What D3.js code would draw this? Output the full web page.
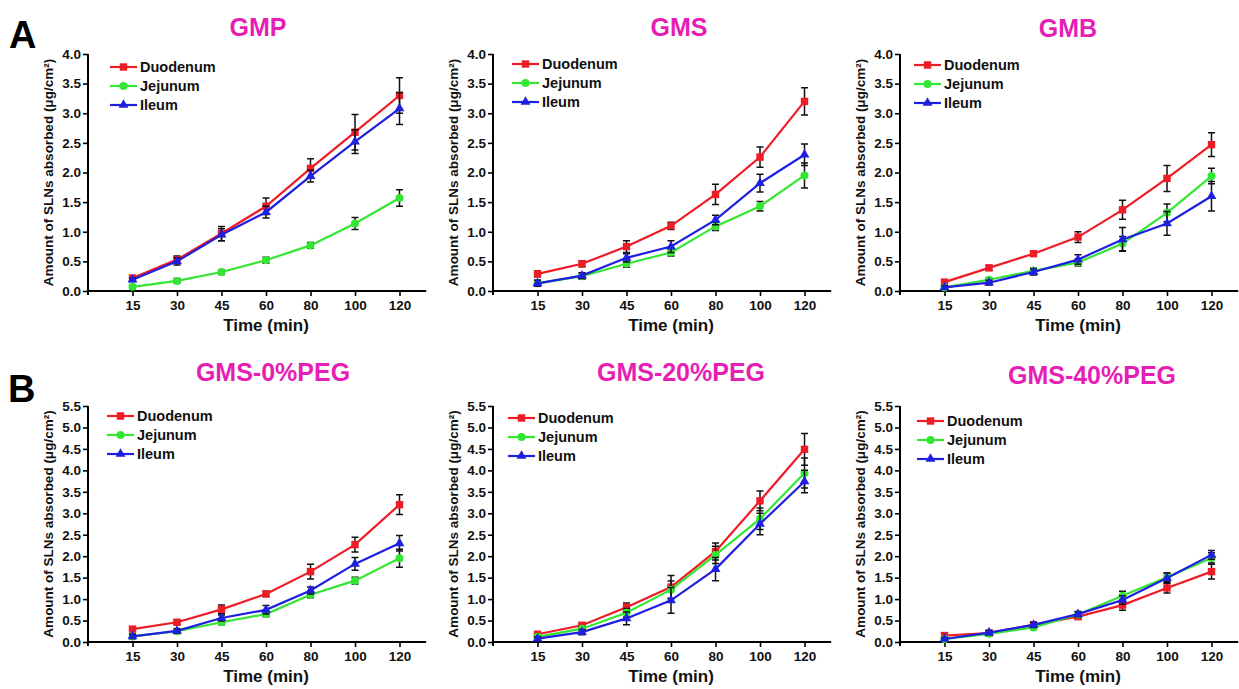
<!DOCTYPE html>
<html>
<head>
<meta charset="utf-8">
<script src="https://cdn.jsdelivr.net/npm/d3@7"></script>
<style>
  body { margin: 0; background: #fff; }
  svg { display: block; font-family: "Liberation Sans", Arial, sans-serif; font-weight: bold; }
</style>
</head>
<body>
<svg id="chart" width="1239" height="689"></svg>
<script>
// time points (categorical x axis)
const times = ['15', '30', '45', '60', '80', '100', '120'];
const seriesNames = ['Duodenum', 'Jejunum', 'Ileum'];
const seriesColors = ['#ee1c24', '#33e633', '#1f1fe0'];

// means per series: [Duodenum, Jejunum, Ileum]
const gmpMean = [
    [0.22, 0.53, 0.97, 1.43, 2.07, 2.68, 3.30],
    [0.07, 0.17, 0.32, 0.52, 0.77, 1.14, 1.57],
    [0.19, 0.50, 0.95, 1.33, 1.94, 2.52, 3.08]
];
const gmpErr = [
    [0.03, 0.06, 0.12, 0.14, 0.16, 0.30, 0.30],
    [0.03, 0.04, 0.04, 0.05, 0.05, 0.10, 0.14],
    [0.03, 0.06, 0.10, 0.10, 0.10, 0.20, 0.27]
];
const gmsMean = [
    [0.29, 0.46, 0.75, 1.10, 1.63, 2.26, 3.20],
    [0.13, 0.25, 0.46, 0.65, 1.09, 1.43, 1.95],
    [0.13, 0.26, 0.56, 0.75, 1.20, 1.82, 2.30]
];
const gmsErr = [
    [0.05, 0.05, 0.10, 0.06, 0.17, 0.17, 0.23],
    [0.05, 0.05, 0.06, 0.06, 0.07, 0.08, 0.21],
    [0.05, 0.05, 0.07, 0.10, 0.08, 0.15, 0.18]
];
const gmbMean = [
    [0.15, 0.39, 0.63, 0.91, 1.37, 1.90, 2.47],
    [0.06, 0.19, 0.34, 0.48, 0.80, 1.32, 1.94],
    [0.06, 0.14, 0.32, 0.53, 0.87, 1.14, 1.60]
];
const gmbErr = [
    [0.03, 0.04, 0.04, 0.09, 0.16, 0.22, 0.20],
    [0.03, 0.03, 0.05, 0.06, 0.12, 0.15, 0.13],
    [0.03, 0.04, 0.05, 0.08, 0.20, 0.20, 0.25]
];
const peg0Mean = [
    [0.30, 0.46, 0.76, 1.12, 1.64, 2.27, 3.20],
    [0.13, 0.25, 0.46, 0.65, 1.10, 1.43, 1.95],
    [0.13, 0.26, 0.56, 0.75, 1.20, 1.82, 2.30]
];
const peg0Err = gmsErr;
const peg20Mean = [
    [0.18, 0.39, 0.81, 1.28, 2.11, 3.29, 4.49],
    [0.12, 0.31, 0.68, 1.22, 2.03, 2.87, 3.94],
    [0.08, 0.23, 0.55, 0.97, 1.70, 2.75, 3.74]
];
const peg20Err = [
    [0.04, 0.05, 0.10, 0.27, 0.20, 0.23, 0.37],
    [0.04, 0.05, 0.10, 0.20, 0.20, 0.25, 0.35],
    [0.04, 0.06, 0.15, 0.30, 0.27, 0.25, 0.26]
];
const peg40Mean = [
    [0.15, 0.21, 0.40, 0.59, 0.86, 1.26, 1.64],
    [0.07, 0.19, 0.34, 0.64, 1.08, 1.51, 1.96],
    [0.07, 0.22, 0.40, 0.65, 0.98, 1.49, 2.03]
];
const peg40Err = [
    [0.04, 0.05, 0.06, 0.06, 0.12, 0.12, 0.17],
    [0.03, 0.05, 0.05, 0.06, 0.10, 0.10, 0.12],
    [0.03, 0.05, 0.06, 0.06, 0.10, 0.12, 0.10]
];

const rowATicks = [0, 0.5, 1, 1.5, 2, 2.5, 3, 3.5, 4];
const rowBTicks = [0, 0.5, 1, 1.5, 2, 2.5, 3, 3.5, 4, 4.5, 5, 5.5];

// layout of the six panels
const panels = [
    { title: 'GMP', mean: gmpMean, err: gmpErr, ticks: rowATicks, ymax: 4, ax: 88, y0: 291, yTop: 54, titleX: 258, titleY: 36, legX: 110, legY: 67 },
    { title: 'GMS', mean: gmsMean, err: gmsErr, ticks: rowATicks, ymax: 4, ax: 493, y0: 291, yTop: 54, titleX: 679, titleY: 36, legX: 512, legY: 64 },
    { title: 'GMB', mean: gmbMean, err: gmbErr, ticks: rowATicks, ymax: 4, ax: 900, y0: 291, yTop: 54, titleX: 1068, titleY: 37, legX: 914, legY: 65 },
    { title: 'GMS-0%PEG', mean: peg0Mean, err: peg0Err, ticks: rowBTicks, ymax: 5.5, ax: 88, y0: 642, yTop: 406, titleX: 273, titleY: 381, legX: 107, legY: 416 },
    { title: 'GMS-20%PEG', mean: peg20Mean, err: peg20Err, ticks: rowBTicks, ymax: 5.5, ax: 493, y0: 642, yTop: 406, titleX: 681, titleY: 381, legX: 508, legY: 418 },
    { title: 'GMS-40%PEG', mean: peg40Mean, err: peg40Err, ticks: rowBTicks, ymax: 5.5, ax: 900, y0: 642, yTop: 406, titleX: 1092, titleY: 384, legX: 917, legY: 421 }
];

const svg = d3.select('#chart');
const step = 44.5;

function drawMarker(g, i, x, y, color) {
    if (i === 0) {
        g.append('rect').attr('x', x - 3.7).attr('y', y - 3.7).attr('width', 7.4).attr('height', 7.4).attr('fill', color);
    } else if (i === 1) {
        g.append('circle').attr('cx', x).attr('cy', y).attr('r', 4).attr('fill', color);
    } else {
        g.append('path').attr('d', d3.symbol(d3.symbolTriangle, 42)()).attr('transform', `translate(${x},${y})`).attr('fill', color);
    }
}

function drawPanel(p) {
    const g = svg.append('g');
    const x = d3.scaleLinear().domain([0, 7.6]).range([p.ax, p.ax + 7.6 * step]);
    const y = d3.scaleLinear().domain([0, p.ymax]).range([p.y0, p.yTop]);

    // y axis
    const yAxis = g.append('g').attr('transform', `translate(${p.ax},0)`)
        .call(d3.axisLeft(y).tickValues(p.ticks).tickFormat(d3.format('.1f')).tickSize(5).tickPadding(2));
    yAxis.select('.domain').attr('d', `M0,${p.y0 + 4}V${p.yTop}`).attr('stroke-width', 2);
    yAxis.selectAll('.tick line').attr('stroke-width', 1.6);
    yAxis.selectAll('text').attr('font-size', 13.5).attr('font-weight', 'bold').attr('fill', '#111')
        .attr('font-family', '"Liberation Sans", Arial, sans-serif');

    // x axis
    const xAxis = g.append('g').attr('transform', `translate(0,${p.y0})`)
        .call(d3.axisBottom(x).tickValues(d3.range(1, 8)).tickFormat(i => times[i - 1]).tickSize(5).tickPadding(4));
    xAxis.select('.domain').attr('d', `M${p.ax},0H${x(7.6)}`).attr('stroke-width', 2);
    xAxis.selectAll('.tick line').attr('stroke-width', 1.6);
    xAxis.selectAll('text').attr('font-size', 13.5).attr('font-weight', 'bold').attr('fill', '#111')
        .attr('font-family', '"Liberation Sans", Arial, sans-serif');

    // axis titles
    g.append('text').attr('x', x(4)).attr('y', p.y0 + 40).attr('text-anchor', 'middle')
        .attr('font-size', 17).attr('fill', '#111').text('Time (min)');
    g.append('text').attr('transform', `translate(${p.ax - 35},${(p.y0 + p.yTop) / 2}) rotate(-90)`)
        .attr('text-anchor', 'middle').attr('font-size', 13.5).attr('fill', '#111')
        .text('Amount of SLNs absorbed (μg/cm²)');

    // panel title
    g.append('text').attr('x', p.titleX).attr('y', p.titleY).attr('text-anchor', 'middle')
        .attr('font-size', 25).attr('fill', '#e61eb4').text(p.title);

    const line = d3.line().x((d, j) => x(j + 1)).y(d => y(d));

    p.mean.forEach((vals, i) => {
        const s = g.append('g');
        s.append('path').datum(vals).attr('d', line).attr('fill', 'none')
            .attr('stroke', seriesColors[i]).attr('stroke-width', 2.2);
        vals.forEach((v, j) => {
            const e = p.err[i][j];
            const cx = x(j + 1);
            s.append('path').attr('d', `M${cx},${y(v - e)}V${y(v + e)}M${cx - 3.5},${y(v - e)}H${cx + 3.5}M${cx - 3.5},${y(v + e)}H${cx + 3.5}`)
                .attr('stroke', '#111').attr('stroke-width', 1.5).attr('fill', 'none');
            drawMarker(s, i, cx, y(v), seriesColors[i]);
        });
    });

    // legend
    seriesNames.forEach((name, i) => {
        const ly = p.legY + i * 19;
        g.append('line').attr('x1', p.legX).attr('x2', p.legX + 27).attr('y1', ly).attr('y2', ly)
            .attr('stroke', seriesColors[i]).attr('stroke-width', 2.2);
        drawMarker(g, i, p.legX + 13.5, ly, seriesColors[i]);
        g.append('text').attr('x', p.legX + 30).attr('y', ly + 5).attr('font-size', 14.5)
            .attr('fill', '#111').text(name);
    });
}

panels.forEach(drawPanel);

// row letters
svg.append('text').attr('x', 9).attr('y', 48).attr('font-size', 38).attr('fill', '#000').text('A');
svg.append('text').attr('x', 8).attr('y', 402).attr('font-size', 38).attr('fill', '#000').text('B');
</script>
</body>
</html>
